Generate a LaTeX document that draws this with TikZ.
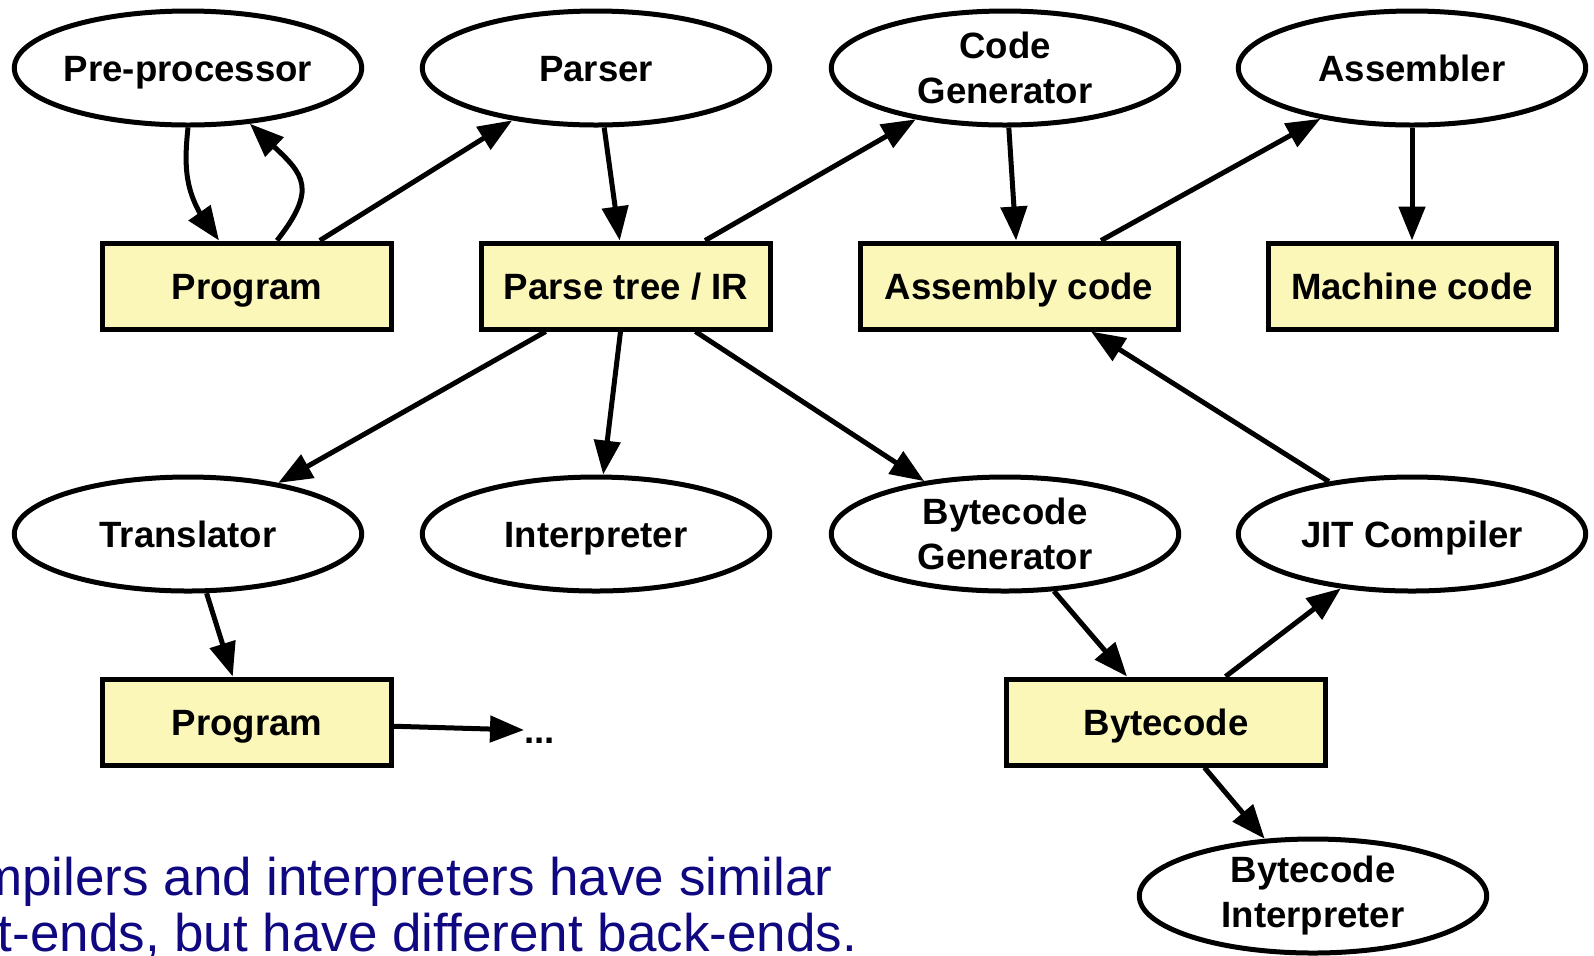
\documentclass[tikz,border=0pt]{standalone}
\usepackage{fontspec}
\setmainfont{Liberation Sans}
\usetikzlibrary{shapes.geometric, arrows.meta, bending}
\definecolor{boxfill}{RGB}{250,247,185}
\definecolor{captionblue}{RGB}{16,8,128}
\begin{document}
\begin{tikzpicture}[x=0.5pt, y=-0.5pt,
  lbl/.style={font=\bfseries\fontsize{18.3}{22.5}\selectfont},
  oneline/.style={text height=13.2pt, text depth=0pt},
  twoline/.style={align=center},
  proc/.style={ellipse, draw, line width=2.5pt, minimum width=173.7pt,
    minimum height=57pt, inner sep=0pt, inner xsep=-4pt, lbl},
  data/.style={rectangle, draw, fill=boxfill, line width=2.5pt,
    minimum height=43pt, inner sep=0pt, lbl, oneline},
  flow/.style={line width=2.5pt, -{Triangle[length=17pt, width=13pt]}},
  caption/.style={anchor=base west, inner sep=0pt, text=captionblue,
    font=\fontsize{26.5}{28}\selectfont}
]
\useasboundingbox (0,0) rectangle (1594,955);

% tools (ellipses)
\node[proc, oneline] (pre)       at (188,68)   {Pre-processor};
\node[proc, oneline] (parser)    at (596,68)   {Parser};
\node[proc, twoline] (codegen)   at (1005,68)  {Code\\Generator};
\node[proc, oneline] (assembler) at (1412,68)  {Assembler};
\node[proc, oneline] (trans)     at (188,534)  {Translator};
\node[proc, oneline] (interp)    at (596,534)  {Interpreter};
\node[proc, twoline] (bcgen)     at (1005,534) {Bytecode\\Generator};
\node[proc, oneline] (jit)       at (1412,534) {JIT Compiler};
\node[proc, twoline] (bcinterp)  at (1313,896) {Bytecode\\Interpreter};

% artefacts (boxes)
\node[data, minimum width=144.5pt] (prog)     at (247,286)  {Program};
\node[data, minimum width=144.5pt] (ptree)    at (626,286)  {Parse tree / IR};
\node[data, minimum width=159pt]   (asm)      at (1019,286) {Assembly code};
\node[data, minimum width=144pt]   (mach)     at (1412,286) {Machine code};
\node[data, minimum width=144.5pt] (prog2)    at (247,722)  {Program};
\node[data, minimum width=159.5pt] (bytecode) at (1166,722) {Bytecode};
\node[lbl, oneline, inner sep=0pt, anchor=west] (dots) at (524,730) {...};

% front end
\draw[flow] (pre.-90) .. controls (183,175) and (186,200) .. ([xshift=-14pt]prog.north);
\draw[flow] ([xshift=15pt]prog.north) .. controls (326,178) and (296,170) .. (pre.-42);
\draw[flow] (prog) -- (parser);
\draw[flow] (parser) -- (ptree);

% compiler back end
\draw[flow] (ptree) -- (codegen);
\draw[flow] (codegen) -- (asm);
\draw[flow] (asm) -- (assembler);
\draw[flow] (assembler) -- (mach);

% translator and interpreter
\draw[flow] (ptree) -- (trans);
\draw[flow] (ptree) -- (interp);
\draw[flow] (trans) -- (prog2);
\draw[flow] (prog2) -- (dots.west);

% bytecode path
\draw[flow] (ptree) -- (bcgen);
\draw[flow] (bcgen) -- (bytecode);
\draw[flow] (bytecode) -- (jit);
\draw[flow] (jit) -- (asm);
\draw[flow] (bytecode) -- (bcinterp);

% caption
\begin{scope}
\clip (0,0) rectangle (1594,955);
\node[caption] (cap1) at (-90,895) {Compilers and interpreters have similar};
\node[caption] (cap2) at (-94,951) {front-ends, but have different back-ends.};
\end{scope}
\end{tikzpicture}
\end{document}
